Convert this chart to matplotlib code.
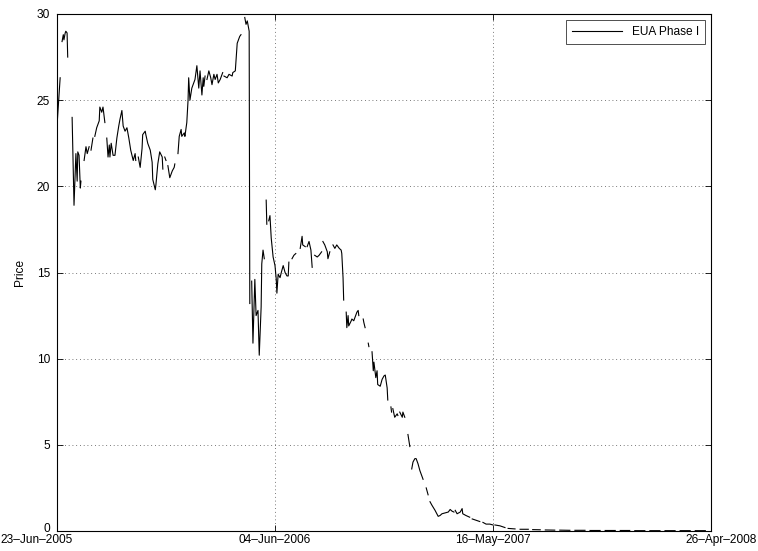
import numpy as np
import matplotlib
matplotlib.use("Agg")
import matplotlib.pyplot as plt
import matplotlib.dates as mdates
import matplotlib.transforms as mtransforms
from matplotlib.ticker import FixedLocator

nan = np.nan
start_date = "2005-06-23"
end_date = "2008-04-26"
series_name = "EUA Phase I"
y_label = "Price"

# day offsets from start_date and prices (nan = missing data / gap)
days = [0, 2, 3, 5, 6,
        8, 10, 11, 13, 14, 16, 17, 19,
        24, 27, 30, 32, 33, 35, 37, 38, 40,
        43, 46, 48, 51, 52, 54, 57, 59,
        60, 63, 67, 68, 71, 73, 76, 78,
        79, 81, 83, 84, 86, 89, 92, 95, 98, 100, 103, 105, 108, 111, 114, 117, 121, 124, 125, 127,
        129, 132, 135, 136, 140, 141, 144, 148, 151, 152, 156, 157, 160, 163, 167, 168, 170,
        171, 173, 175,
        176, 179, 183, 186, 187, 189,
        192, 194, 197, 198, 202, 203, 206, 208, 209, 211, 214, 216, 219, 222, 225, 227, 230, 232, 233, 235, 236,
        238, 241, 244, 246, 249, 251, 254, 256, 259, 263, 264,
        265, 270, 273, 278, 279, 283, 286, 287, 290, 292, 294,
        298, 300, 302, 303, 305, 306, 307,
        309, 311, 314, 316, 319, 321, 324, 325, 327, 329, 330,
        332, 333, 335,
        336, 338, 340, 343, 346, 348, 349, 351, 354, 356, 359, 362, 365, 367, 368, 370,
        373, 376, 379, 380,
        381, 383,
        386, 389, 390, 394, 395,
        397, 400, 403, 405, 406,
        409, 413, 416, 420, 421,
        422, 425, 429, 430, 433, 435,
        438, 441, 444, 448, 451, 452, 454, 455, 456,
        459, 460, 462, 463, 467, 468, 471, 473, 476, 478, 479, 481,
        486, 487, 489, 491,
        494, 495, 497,
        500, 502, 503, 506, 508, 509, 513, 516, 519, 521, 524, 525, 527,
        530, 531, 532,
        533, 536, 540, 541, 543,
        544, 548, 549, 552, 554,
        557, 560, 562,
        563, 565, 568, 570, 573, 576, 581, 583,
        586, 589, 590,
        592, 595, 600, 605, 608, 611, 616, 621, 624, 627, 630, 631,
        632, 635, 640, 643, 644, 649, 652, 655, 656,
        659, 663, 667, 671, 673,
        676, 681, 687, 692, 693,
        695, 703, 711, 713,
        716, 727, 730,
        735, 748, 752,
        755, 767, 770,
        775, 790, 794,
        798, 814, 818,
        822, 838, 842,
        846, 862, 866,
        870, 886, 890,
        894, 909, 913,
        917, 933, 937,
        941, 957, 961,
        965, 981, 985,
        989, 1005, 1009,
        1013, 1029]

prices = [23.5, 24.6, 25.2, 26.3, nan,
          28.4, 28.8, 28.5, 28.9, 29.0, 28.9, 27.5, nan,
          24.0, 18.9, 21.9, 20.3, 22.0, 21.8, 19.9, 20.3, nan,
          21.5, 22.3, 21.9, 22.3, nan, 22.1, 22.8, nan,
          22.9, 23.4, 23.8, 24.6, 24.3, 24.6, 23.7, nan,
          22.8, 21.7, 22.4, 21.7, 22.5, 21.8, 21.8, 22.8, 23.5, 23.9, 24.4, 23.5, 23.2, 23.4, 22.8, 22.1, 21.5, 21.9, 21.5, nan,
          21.7, 21.1, 22.2, 23.0, 23.2, 23.0, 22.5, 22.1, 21.4, 20.4, 19.8, 20.1, 21.3, 22.0, 21.7, 21.0, nan,
          21.7, 21.5, nan,
          21.2, 20.5, 20.9, 21.1, 21.3, nan,
          21.9, 22.9, 23.3, 22.9, 23.1, 22.9, 23.7, 25.0, 26.3, 25.0, 25.7, 25.9, 26.2, 27.0, 25.7, 26.7, 25.3, 26.3, 25.8, 26.4, nan,
          26.2, 26.7, 26.3, 25.9, 26.5, 26.2, 26.5, 26.0, 26.2, 26.6, nan,
          26.4, 26.3, 26.5, 26.4, 26.6, 26.7, 28.3, 28.4, 28.7, 28.8, nan,
          29.8, 29.4, 29.6, 29.4, 29.0, 13.2, nan,
          14.5, 10.9, 14.6, 12.5, 12.8, 10.2, 13.0, 15.5, 16.3, 15.8, nan,
          19.2, 17.8, nan,
          18.0, 18.3, 17.0, 15.9, 15.4, 14.6, 13.8, 14.9, 14.7, 15.0, 15.4, 15.0, 14.8, 14.8, 15.6, nan,
          15.8, 16.0, 16.1, nan,
          16.4, nan,
          16.4, 17.1, 16.6, 16.5, nan,
          16.5, 16.8, 16.3, 15.3, nan,
          16.0, 15.9, 16.0, 16.2, nan,
          16.8, 16.6, 16.2, 15.8, 16.2, nan,
          16.6, 16.4, 16.6, 16.4, 16.3, 16.1, 14.7, 13.4, nan,
          12.7, 11.8, 12.5, 11.9, 12.2, 12.3, 12.2, 12.4, 12.7, 12.8, 12.5, nan,
          12.3, 12.1, 11.8, nan,
          10.9, 10.7, nan,
          10.4, 9.3, 9.8, 8.9, 9.3, 8.5, 8.4, 8.8, 9.0, 9.05, 8.3, 7.6, nan,
          7.2, 6.9, nan,
          7.1, 6.6, 6.8, 6.7, nan,
          6.9, 6.6, 6.9, 6.6, nan,
          5.6, 4.9, nan,
          3.6, 4.0, 4.2, 4.2, 3.9, 3.5, 3.0, nan,
          2.5, 2.1, nan,
          1.7, 1.5, 1.2, 0.85, 0.9, 1.0, 1.05, 1.1, 1.25, 1.15, 1.1, nan,
          1.2, 1.0, 1.1, 1.3, 1.0, 0.9, 0.85, 0.8, nan,
          0.7, 0.65, 0.6, 0.55, nan,
          0.5, 0.4, 0.4, 0.35, nan,
          0.35, 0.3, 0.2, nan,
          0.15, 0.12, nan,
          0.1, 0.1, nan,
          0.08, 0.07, nan,
          0.06, 0.05, nan,
          0.05, 0.04, nan,
          0.04, 0.04, nan,
          0.03, 0.03, nan,
          0.03, 0.03, nan,
          0.03, 0.03, nan,
          0.02, 0.02, nan,
          0.02, 0.02, nan,
          0.02, 0.02, nan,
          0.02, 0.02, nan,
          0.02, 0.02]

tick_dates = ["2005-06-23", "2006-06-04", "2007-05-16", "2008-04-26"]
y_ticks = [0, 5, 10, 15, 20, 25, 30]

assert len(days) == len(prices)

plt.rcParams['font.family'] = ['Liberation Sans', 'DejaVu Sans']
FS = 8.6

dates = np.datetime64(start_date) + np.array(days, dtype='timedelta64[D]')
fig = plt.figure(figsize=(7.58, 5.51), dpi=100)
ax = fig.add_axes([57/758, 1 - 531/551, (711 - 57)/758, (531 - 14)/551])

ax.plot(dates, prices, color='black', lw=0.8, label=series_name)

ax.set_xlim(np.datetime64(start_date), np.datetime64(end_date))
ax.set_ylim(0, 30)
tick_nums = [mdates.date2num(np.datetime64(d)) for d in tick_dates]
ax.xaxis.set_major_locator(FixedLocator(tick_nums))
labels = [np.datetime64(d).astype(object).strftime('%d–%b–%Y') for d in tick_dates]
ax.set_xticklabels(labels)
ax.set_yticks(y_ticks)

ax.tick_params(direction='in', length=4, width=0.6, labelsize=FS, top=True, right=True)
ax.tick_params(axis='x', pad=2)
ax.tick_params(axis='y', pad=5)

# keep the outer date labels inside the figure, as in the reference
xl = ax.get_xticklabels()
xl[0].set_horizontalalignment('left')
xl[0].set_transform(xl[0].get_transform() + mtransforms.ScaledTranslation(-57/100, 0, fig.dpi_scale_trans))
xl[-1].set_horizontalalignment('right')
xl[-1].set_transform(xl[-1].get_transform() + mtransforms.ScaledTranslation(46/100, 0, fig.dpi_scale_trans))

# lift the "0" label slightly, as in the reference
yl = ax.get_yticklabels()
yl[0].set_transform(yl[0].get_transform() + mtransforms.ScaledTranslation(0, 4/100, fig.dpi_scale_trans))

ax.grid(True, color='0.3', linestyle=(0, (1, 3.5)), linewidth=0.6)
for s in ax.spines.values():
    s.set_linewidth(0.8)
ax.set_ylabel(y_label, fontsize=FS, labelpad=8)

leg = ax.legend(loc='upper right', fontsize=FS, frameon=True, fancybox=False,
                edgecolor='black', borderpad=0.5, handlelength=4.2, borderaxespad=0.5)
leg.get_frame().set_linewidth(0.6)

fig.savefig('out.png', dpi=100)
